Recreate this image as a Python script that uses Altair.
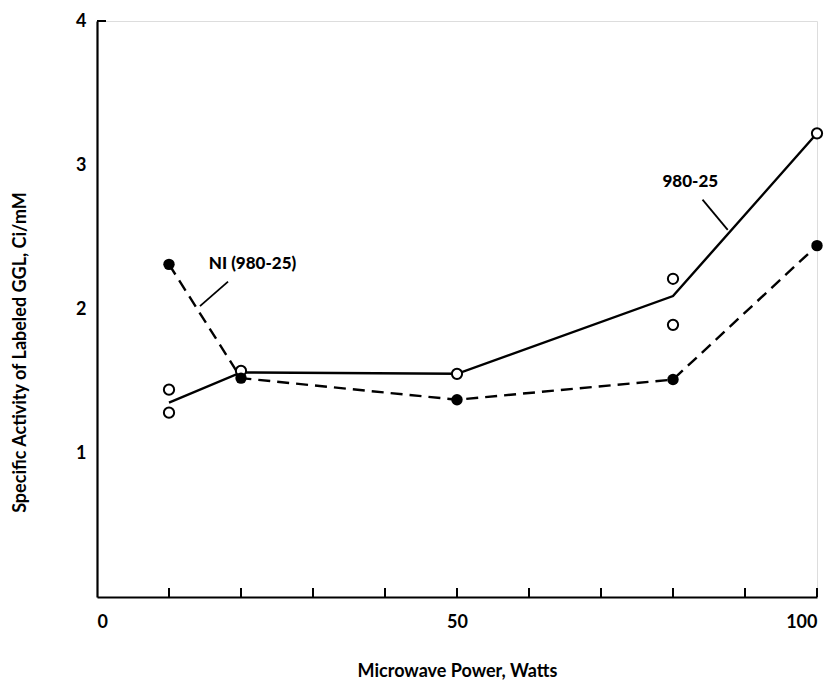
import altair as alt
import pandas as pd

# Open circles (980-25)
open_x = [10, 10, 20, 50, 80, 80, 100]
open_y = [1.44, 1.28, 1.57, 1.55, 2.21, 1.89, 3.22]
# Solid line (980-25)
solid_x = [10, 20, 50, 80, 100]
solid_y = [1.35, 1.56, 1.55, 2.09, 3.22]
# Filled circles + dashed line, NI (980-25)
ni_x = [10, 20, 50, 80, 100]
ni_y = [2.31, 1.52, 1.37, 1.51, 2.44]

x_minor_ticks = [10, 20, 30, 40, 50, 60, 70, 80, 90, 100]
y_ticks = [4]
x_labels = [0, 50, 100]
y_labels = [1, 2, 3, 4]

labels_text = ["NI (980-25)", "980-25"]
labels_x = [21.6, 82.4]
labels_y = [2.31, 2.88]
leader_x = [14.3, 84.1]
leader_y = [2.02, 2.76]
leader_x2 = [18.2, 87.6]
leader_y2 = [2.19, 2.55]

FONT = "Lato"
W, H = 720, 576

xs = alt.Scale(domain=[0, 100], nice=False, zero=False)
ys = alt.Scale(domain=[0, 4], nice=False, zero=False)

open_df = pd.DataFrame({"x": open_x, "y": open_y})
solid_df = pd.DataFrame({"x": solid_x, "y": solid_y})
ni_df = pd.DataFrame({"x": ni_x, "y": ni_y})
xt_df = pd.DataFrame({"x": x_minor_ticks})
yt_df = pd.DataFrame({"y": y_ticks})
lab_df = pd.DataFrame({"t": labels_text, "x": labels_x, "y": labels_y})
lead_df = pd.DataFrame({"x": leader_x, "y": leader_y, "x2": leader_x2, "y2": leader_y2})

x_axis = alt.Axis(values=x_labels, format="d", tickSize=0, grid=False, domainColor="black", domainWidth=2.2,
                  labelFont=FONT, labelFontSize=18, labelFontWeight="bold", labelColor="black",
                  labelPadding=16, title="Microwave Power, Watts", titleFont=FONT, titleFontSize=18,
                  titleFontWeight="bold", titleColor="black", titleY=74, titleBaseline="middle")
y_axis = alt.Axis(values=y_labels, format="d", tickSize=0, grid=False, domainColor="black", domainWidth=2.2,
                  labelFont=FONT, labelFontSize=18, labelFontWeight="bold", labelColor="black",
                  labelPadding=11, title="Specific Activity of Labeled GGL, Ci/mM", titleFont=FONT,
                  titleFontSize=18, titleFontWeight="bold", titleColor="black", titleX=-77, titleY=331,
                  titleAngle=-90, titleAlign="center", titleBaseline="middle")

base_axes = alt.Chart(solid_df).mark_line(stroke="black", strokeWidth=2.4).encode(
    x=alt.X("x:Q", scale=xs, axis=x_axis),
    y=alt.Y("y:Q", scale=ys, axis=y_axis),
)

dashed = alt.Chart(ni_df).mark_line(stroke="black", strokeWidth=2.4, strokeDash=[12, 7]).encode(
    x=alt.X("x:Q", scale=xs), y=alt.Y("y:Q", scale=ys))
filled = alt.Chart(ni_df).mark_point(shape="circle", filled=True, fill="black", opacity=1, size=130).encode(
    x=alt.X("x:Q", scale=xs), y=alt.Y("y:Q", scale=ys))
opens = alt.Chart(open_df).mark_point(shape="circle", filled=True, fill="white", stroke="black",
                                      strokeWidth=2, opacity=1, size=105).encode(
    x=alt.X("x:Q", scale=xs), y=alt.Y("y:Q", scale=ys))

xticks = alt.Chart(xt_df).mark_rule(stroke="black", strokeWidth=2).encode(
    x=alt.X("x:Q", scale=xs), y=alt.value(H), y2=alt.value(H - 9))
yticks = alt.Chart(yt_df).mark_rule(stroke="black", strokeWidth=2).encode(
    y=alt.Y("y:Q", scale=ys), x=alt.value(0), x2=alt.value(9))

leaders = alt.Chart(lead_df).mark_rule(stroke="black", strokeWidth=1.8).encode(
    x=alt.X("x:Q", scale=xs), y=alt.Y("y:Q", scale=ys), x2="x2:Q", y2="y2:Q")
texts = alt.Chart(lab_df).mark_text(font=FONT, fontSize=17, fontWeight=900, color="black",
                                    align="center", baseline="middle").encode(
    x=alt.X("x:Q", scale=xs), y=alt.Y("y:Q", scale=ys), text="t:N")

chart = alt.layer(base_axes, dashed, opens, filled, xticks, yticks, leaders, texts).properties(
    width=W, height=H,
    autosize=alt.AutoSizeParams(type="none"),
    padding={"left": 89, "top": 13, "right": 12, "bottom": 87},
).configure_view(stroke=None).configure(background="white")

chart.save("out.html", embed_options={"renderer": "svg", "actions": False})
